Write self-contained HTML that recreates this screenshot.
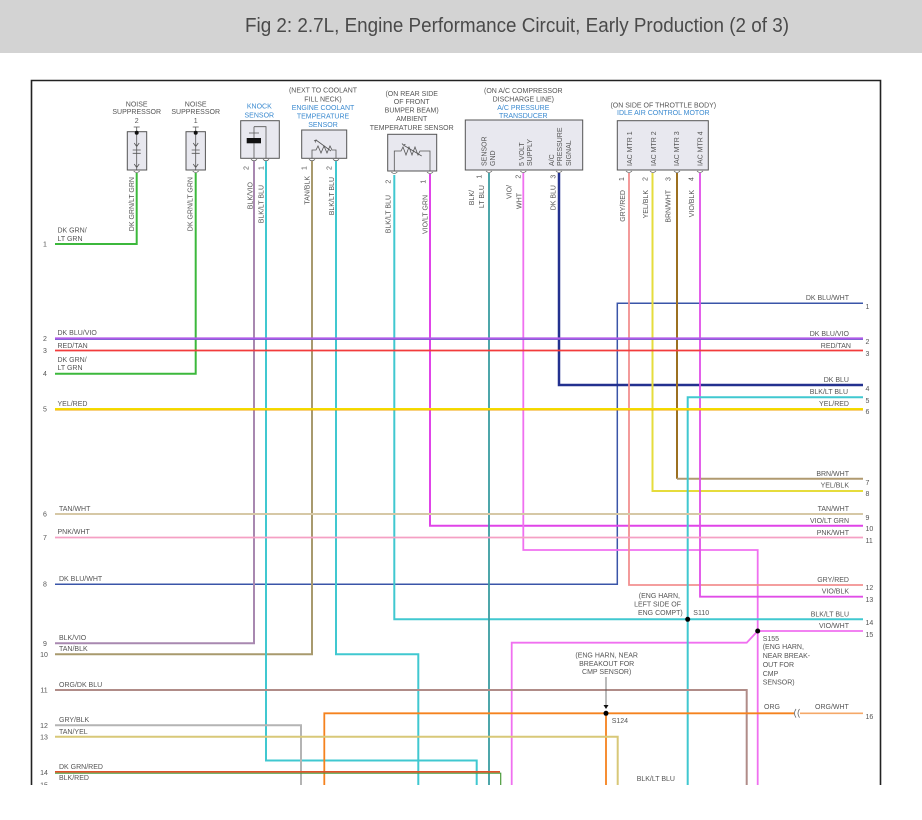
<!DOCTYPE html>
<html><head><meta charset="utf-8">
<style>
html,body{margin:0;padding:0;background:#fff;}
svg{display:block;}
text{font-family:"Liberation Sans",Arial,sans-serif;}
.t{font-size:7px;fill:#555;}
.b{font-size:7px;fill:#3a8ad0;}
.w{fill:none;stroke-linejoin:miter;}
</style></head><body>
<svg width="922" height="820" viewBox="0 0 922 820" xmlns="http://www.w3.org/2000/svg">
<rect x="0" y="0" width="922" height="820" fill="#fff"/>
<rect x="0" y="0" width="922" height="53" fill="#d3d3d3"/>
<text x="245" y="32" font-size="20" fill="#4a4a4a" textLength="544" lengthAdjust="spacingAndGlyphs">Fig 2: 2.7L, Engine Performance Circuit, Early Production (2 of 3)</text>

<!-- frame -->
<path d="M31.5,785 V80.5 H880.5 V785" fill="none" stroke="#222" stroke-width="1.6"/>

<!-- component boxes -->
<g fill="#e8e8ef" stroke="#555" stroke-width="1">
<rect x="127.3" y="131.7" width="19.4" height="38.3"/>
<rect x="186" y="131.7" width="19.4" height="38.3"/>
<rect x="240.7" y="120.7" width="38.6" height="37.6"/>
<rect x="301.7" y="130" width="45" height="28.3"/>
<rect x="387.7" y="134.3" width="49" height="36.7"/>
<rect x="465.3" y="120" width="117.4" height="50"/>
<rect x="617.3" y="120.7" width="91" height="49.3"/>
</g>

<!-- noise suppressor internals -->
<g stroke="#555" stroke-width="0.8" fill="none">
<path d="M136.7,127 V170 M132.7,150 H140.7 M132.7,153.3 H140.7 M134.2,143 L136.7,146.5 L139.2,143 M134.2,164 L136.7,167.5 L139.2,164 M133.7,127 H139.7"/>
<path d="M195.7,127 V170 M191.7,150 H199.7 M191.7,153.3 H199.7 M193.2,143 L195.7,146.5 L198.2,143 M193.2,164 L195.7,167.5 L198.2,164 M192.7,127 H198.7"/>
</g>
<circle cx="136.7" cy="132.7" r="2" fill="#111"/>
<circle cx="195.7" cy="132.7" r="2" fill="#111"/>

<!-- knock internals -->
<g stroke="#555" stroke-width="0.8" fill="none">
<path d="M254,126.7 V138 M254,143.3 V158.3 M254,126.7 H266 V158.3 M249,133 H259"/>
</g>
<rect x="246.7" y="138" width="14.3" height="5.3" fill="#111"/>

<!-- coolant resistor -->
<g stroke="#555" stroke-width="0.8" fill="none">
<path d="M312,158.3 V150 H316 L318,146 L321,153 L324,146 L327,153 L330,146 L332,150 H336 V158.3"/>
<path d="M316,140 L331,151"/>
<path d="M314,141 L316,140 L315.5,142.5"/>
</g>
<!-- ambient resistor -->
<g stroke="#555" stroke-width="0.8" fill="none">
<path d="M394.3,171 V151 H401 L403,147 L406,155 L409,147 L412,155 L415,147 L418,155 L420,151 H430 V171"/>
<path d="M403.3,145 L421.7,156"/>
<path d="M402,143.5 L403.3,145 L405.5,144.3"/>
</g>

<!-- pin cups -->
<g stroke="#666" stroke-width="0.8" fill="none">
<path d="M133.7,171 Q136.7,174 139.7,171 M192.7,171 Q195.7,174 198.7,171"/>
<path d="M251,159.3 Q254,162.3 257,159.3 M263,159.3 Q266,162.3 269,159.3"/>
<path d="M309,159.3 Q312,162.3 315,159.3 M333,159.3 Q336,162.3 339,159.3"/>
<path d="M391.3,172 Q394.3,175 397.3,172 M427,172 Q430,175 433,172"/>
<path d="M486,171 Q489,174 492,171 M520.3,171 Q523.3,174 526.3,171 M556,171 Q559,174 562,171"/>
<path d="M626,171 Q629,174 632,171 M650,171 Q653,174 656,171 M674,171 Q677,174 680,171 M697,171 Q700,174 703,171"/>
</g>

<!-- wires -->
<g class="w">
<path d="M136.7,173 V244 H55" stroke="#3cb83c" stroke-width="2"/>
<path d="M195.7,173 V373.7 H55" stroke="#3cb83c" stroke-width="2"/>
<path d="M863,303.3 H617.3 V584.3 H55" stroke="#3a55a8" stroke-width="1.5"/>
<path d="M559,173 V385 H863" stroke="#23318f" stroke-width="2.5"/>
<path d="M677,173 V478.7" stroke="#9c7020" stroke-width="2"/>
<path d="M677,478.7 H863" stroke="#b09a70" stroke-width="2"/>
<path d="M652.5,173 V491 H863" stroke="#e6dc3c" stroke-width="2"/>
<path d="M430,174 V525.7 H863" stroke="#e044e8" stroke-width="2"/>
<path d="M523.3,173 V550 H757.7 V785" stroke="#f070f0" stroke-width="1.8"/>
<path d="M757.7,631 H863" stroke="#f070f0" stroke-width="1.8"/>
<path d="M757.7,631 L746.7,642.7 H511.7 V785" stroke="#f070f0" stroke-width="1.8"/>
<path d="M629,173 V585 H863" stroke="#f29090" stroke-width="1.8"/>
<path d="M700,173 V596.7 H863" stroke="#e04ee8" stroke-width="1.8"/>
<path d="M394.3,175 V619.3 H863" stroke="#40c8d0" stroke-width="2"/>
<path d="M863,397.3 H687.7 V785" stroke="#40c8d0" stroke-width="2"/>
<path d="M254,161 V643.3 H55" stroke="#a888b0" stroke-width="2"/>
<path d="M312,161 V654.3 H55" stroke="#a89a6e" stroke-width="2"/>
<path d="M266,161 V760.5 H476.7 V785" stroke="#40c8d0" stroke-width="2"/>
<path d="M336,161 V654.3 H418.3 V785" stroke="#40c8d0" stroke-width="2"/>
<path d="M489,173 V785" stroke="#3a9ca0" stroke-width="1.8"/>
<path d="M55,690 H746.7 V785" stroke="#b08c88" stroke-width="2"/>
<path d="M324.3,785 V713.3 H794" stroke="#f5821e" stroke-width="1.8"/>
<path d="M606,713.3 V785" stroke="#f5821e" stroke-width="1.8"/>
<path d="M800,713.3 H863" stroke="#f5a868" stroke-width="1.6"/>
<path d="M55,725.3 H301 V785" stroke="#b4b4b4" stroke-width="2"/>
<path d="M55,736.8 H617.7 V785" stroke="#d8c878" stroke-width="2"/>
<path d="M55,773.2 H500.7 V785" stroke="#4a9a3a" stroke-width="1.2"/>
<path d="M55,771.8 H500" stroke="#e0502a" stroke-width="1.6"/>
<!-- full-width horizontals -->
<path d="M55,338.4 H863" stroke="#b05ae8" stroke-width="2"/>
<path d="M55,339.6 H863" stroke="#6a5ac8" stroke-width="0.8"/>
<path d="M55,350.5 H863" stroke="#f23c3c" stroke-width="1.8"/>
<path d="M55,409 H863" stroke="#f4dc00" stroke-width="2"/>
<path d="M55,410.2 H863" stroke="#f0a000" stroke-width="0.6"/>
<path d="M55,514 H863" stroke="#d6c8a6" stroke-width="2"/>
<path d="M55,537.5 H863" stroke="#f5a0c4" stroke-width="1.8"/>
</g>

<!-- connector (( -->
<g stroke="#666" stroke-width="0.8" fill="none">
<path d="M796,709 Q793,713.3 796,717.6 M799.5,709 Q796.5,713.3 799.5,717.6"/>
</g>

<!-- splices -->
<circle cx="687.7" cy="619.3" r="2.5" fill="#000"/>
<circle cx="757.7" cy="631" r="2.5" fill="#000"/>
<circle cx="606" cy="713.3" r="2.5" fill="#000"/>
<path d="M606,677 V705" stroke="#555" stroke-width="0.8"/>
<path d="M603.5,705 L608.5,705 L606,709 Z" fill="#111"/>

<!-- top labels -->
<g class="t" text-anchor="middle">
<text x="136.7" y="106.5">NOISE</text><text x="136.7" y="114.2">SUPPRESSOR</text><text x="136.7" y="123">2</text>
<text x="195.7" y="106.5">NOISE</text><text x="195.7" y="114.2">SUPPRESSOR</text><text x="195.7" y="123">1</text>
<text x="323" y="92.5">(NEXT TO COOLANT</text><text x="323" y="101.5">FILL NECK)</text>
<text x="411.7" y="95.8">(ON REAR SIDE</text><text x="411.7" y="104.2">OF FRONT</text><text x="411.7" y="112.5">BUMPER BEAM)</text><text x="411.7" y="120.8">AMBIENT</text><text x="411.7" y="130.2">TEMPERATURE SENSOR</text>
<text x="523.3" y="93.2">(ON A/C COMPRESSOR</text><text x="523.3" y="101.5">DISCHARGE LINE)</text>
<text x="663.3" y="107.5">(ON SIDE OF THROTTLE BODY)</text>
</g>
<g class="b" text-anchor="middle">
<text x="259.3" y="108.5">KNOCK</text><text x="259.3" y="117.5">SENSOR</text>
<text x="323" y="109.8">ENGINE COOLANT</text><text x="323" y="118.3">TEMPERATURE</text><text x="323" y="126.8">SENSOR</text>
<text x="523.3" y="110.2">A/C PRESSURE</text><text x="523.3" y="118.2">TRANSDUCER</text>
<text x="663.3" y="115.2">IDLE AIR CONTROL MOTOR</text>
</g>

<!-- inside-box vertical texts (bottom aligned) -->
<g class="t">
<text transform="translate(486.5,166) rotate(-90)">SENSOR</text>
<text transform="translate(495.2,166) rotate(-90)">GND</text>
<text transform="translate(524.2,166) rotate(-90)">5 VOLT</text>
<text transform="translate(531.8,166) rotate(-90)">SUPPLY</text>
<text transform="translate(554.2,166) rotate(-90)">A/C</text>
<text transform="translate(561.8,166) rotate(-90)">PRESSURE</text>
<text transform="translate(570.8,166) rotate(-90)">SIGNAL</text>
<text transform="translate(631.8,166) rotate(-90)">IAC MTR 1</text>
<text transform="translate(655.8,166) rotate(-90)">IAC MTR 2</text>
<text transform="translate(679.2,166) rotate(-90)">IAC MTR 3</text>
<text transform="translate(702.5,166) rotate(-90)">IAC MTR 4</text>
</g>

<!-- pin numbers (rotated) -->
<g class="t" text-anchor="middle">
<text transform="translate(248.5,168) rotate(-90)">2</text>
<text transform="translate(263.5,168) rotate(-90)">1</text>
<text transform="translate(306.5,168) rotate(-90)">1</text>
<text transform="translate(331.5,168) rotate(-90)">2</text>
<text transform="translate(390.5,181.7) rotate(-90)">2</text>
<text transform="translate(425.5,181.7) rotate(-90)">1</text>
<text transform="translate(481.5,176.7) rotate(-90)">1</text>
<text transform="translate(520.5,176.7) rotate(-90)">2</text>
<text transform="translate(555.5,176.7) rotate(-90)">3</text>
<text transform="translate(624.2,179) rotate(-90)">1</text>
<text transform="translate(647.5,179) rotate(-90)">2</text>
<text transform="translate(670.5,179) rotate(-90)">3</text>
<text transform="translate(693.5,179) rotate(-90)">4</text>
</g>

<!-- vertical wire labels (top aligned) -->
<g class="t" text-anchor="end">
<text transform="translate(134.2,177) rotate(-90)">DK GRN/LT GRN</text>
<text transform="translate(192.5,177) rotate(-90)">DK GRN/LT GRN</text>
<text transform="translate(252.5,182) rotate(-90)">BLK/VIO</text>
<text transform="translate(263.5,185) rotate(-90)">BLK/LT BLU</text>
<text transform="translate(309.5,176) rotate(-90)">TAN/BLK</text>
<text transform="translate(334.2,177) rotate(-90)">BLK/LT BLU</text>
<text transform="translate(390.5,195) rotate(-90)">BLK/LT BLU</text>
<text transform="translate(427.5,195) rotate(-90)">VIO/LT GRN</text>
<text transform="translate(474.2,190) rotate(-90)">BLK/</text>
<text transform="translate(484.2,185) rotate(-90)">LT BLU</text>
<text transform="translate(511.5,185) rotate(-90)">VIO/</text>
<text transform="translate(521.5,193) rotate(-90)">WHT</text>
<text transform="translate(555.5,185) rotate(-90)">DK BLU</text>
<text transform="translate(625.2,190) rotate(-90)">GRY/RED</text>
<text transform="translate(647.8,190) rotate(-90)">YEL/BLK</text>
<text transform="translate(670.5,190) rotate(-90)">BRN/WHT</text>
<text transform="translate(693.8,190) rotate(-90)">VIO/BLK</text>
</g>

<!-- left numbers -->
<g class="t" text-anchor="middle">
<text x="45" y="246.5">1</text><text x="45" y="341">2</text><text x="45" y="353">3</text><text x="45" y="376">4</text><text x="45" y="411.5">5</text>
<text x="45" y="516.5">6</text><text x="45" y="540">7</text><text x="45" y="586.5">8</text><text x="45" y="646">9</text><text x="44" y="657">10</text>
<text x="44" y="692.5">11</text><text x="44" y="728">12</text><text x="44" y="739.5">13</text><text x="44" y="775">14</text>
</g>
<svg x="0" y="0" width="922" height="785" overflow="hidden"><text class="t" x="44" y="787.5" text-anchor="middle">15</text></svg>

<!-- left labels -->
<g class="t">
<text x="57.5" y="232.5">DK GRN/</text><text x="57.5" y="241">LT GRN</text>
<text x="57.5" y="335.2">DK BLU/VIO</text>
<text x="57.5" y="348">RED/TAN</text>
<text x="57.5" y="361.8">DK GRN/</text><text x="57.5" y="369.8">LT GRN</text>
<text x="57.5" y="405.8">YEL/RED</text>
<text x="59" y="510.8">TAN/WHT</text>
<text x="57.5" y="534.2">PNK/WHT</text>
<text x="59" y="580.8">DK BLU/WHT</text>
<text x="59" y="639.8">BLK/VIO</text>
<text x="59" y="650.8">TAN/BLK</text>
<text x="59" y="686.8">ORG/DK BLU</text>
<text x="59" y="721.8">GRY/BLK</text>
<text x="59" y="733.8">TAN/YEL</text>
<text x="59" y="768.8">DK GRN/RED</text>
<text x="59" y="779.8">BLK/RED</text>
</g>

<!-- right labels -->
<g class="t" text-anchor="end">
<text x="849" y="300.2">DK BLU/WHT</text>
<text x="849" y="335.8">DK BLU/VIO</text>
<text x="851" y="347.8">RED/TAN</text>
<text x="849" y="382.2">DK BLU</text>
<text x="848" y="394.2">BLK/LT BLU</text>
<text x="849" y="405.8">YEL/RED</text>
<text x="849" y="475.8">BRN/WHT</text>
<text x="849" y="487.5">YEL/BLK</text>
<text x="849" y="510.8">TAN/WHT</text>
<text x="849" y="522.8">VIO/LT GRN</text>
<text x="849" y="534.8">PNK/WHT</text>
<text x="849" y="581.8">GRY/RED</text>
<text x="849" y="593.5">VIO/BLK</text>
<text x="849" y="616.5">BLK/LT BLU</text>
<text x="849" y="628.2">VIO/WHT</text>
<text x="680" y="598.2">(ENG HARN,</text>
<text x="681" y="606.5">LEFT SIDE OF</text>
<text x="682.7" y="614.8">ENG COMPT)</text>
</g>

<!-- right numbers -->
<g class="t">
<text x="865.5" y="309.2">1</text><text x="865.5" y="344.2">2</text><text x="865.5" y="355.8">3</text><text x="865.5" y="390.8">4</text>
<text x="865.5" y="403.2">5</text><text x="865.5" y="414.2">6</text><text x="865.5" y="485.2">7</text><text x="865.5" y="496.2">8</text>
<text x="865.5" y="519.8">9</text><text x="865.5" y="530.8">10</text><text x="865.5" y="542.8">11</text><text x="865.5" y="589.8">12</text>
<text x="865.5" y="601.8">13</text><text x="865.5" y="624.8">14</text><text x="865.5" y="636.8">15</text><text x="865.5" y="719.2">16</text>
</g>

<!-- splice labels -->
<g class="t">
<text x="693.3" y="614.8">S110</text>
<text x="762.7" y="640.8">S155</text>
<text x="762.7" y="649.2">(ENG HARN,</text>
<text x="762.7" y="657.8">NEAR BREAK-</text>
<text x="762.7" y="666.8">OUT FOR</text>
<text x="762.7" y="675.8">CMP</text>
<text x="762.7" y="684.5">SENSOR)</text>
<text x="611.7" y="723.2">S124</text>
<text x="764" y="709.2">ORG</text>
<text x="815" y="709.2">ORG/WHT</text>
<text x="636.7" y="780.8">BLK/LT BLU</text>
</g>
<g class="t" text-anchor="middle">
<text x="606.7" y="657.5">(ENG HARN, NEAR</text>
<text x="606.7" y="665.8">BREAKOUT FOR</text>
<text x="606.7" y="674.2">CMP SENSOR)</text>
</g>
</svg>
</body></html>
